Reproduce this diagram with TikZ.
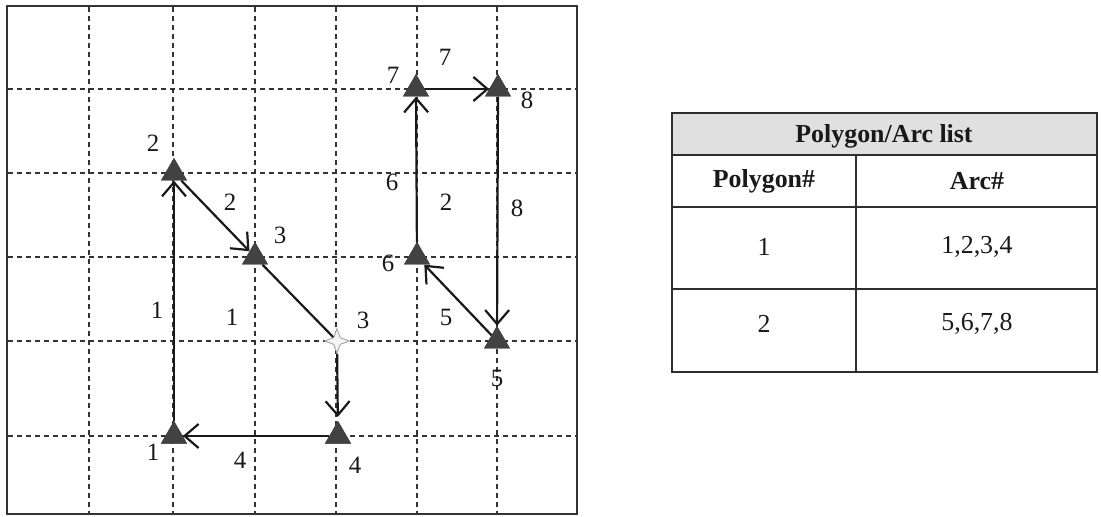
\documentclass[tikz,border=0pt]{standalone}
\usepackage{fontspec}
\setmainfont{Liberation Serif}
\usetikzlibrary{shapes.geometric,arrows.meta}
\begin{document}
\begin{tikzpicture}[x=1bp,y=-1bp,
  vtx/.style={regular polygon,regular polygon sides=3,minimum size=30bp,inner sep=0pt,fill=black!74},
  sparkle/.style={star,star points=4,star point ratio=2.6,minimum size=24bp,inner sep=0pt,fill=black!4,draw=black!35,line width=0.8bp},
  gridline/.style={dash pattern=on 5bp off 4bp,line width=1.5bp,draw=black!80},
  arcline/.style={line width=2.2bp,draw=black!90},
  arcarrow/.style={arcline,-{Straight Barb[length=14bp,width=24bp,line width=2.2bp]}},
  lbl/.style={font=\fontsize{25}{25}\selectfont,inner sep=0pt,text=black!90},
  tline/.style={line width=1.7bp,draw=black!82},
  tbold/.style={font=\fontsize{26}{26}\selectfont\bfseries,inner sep=0pt,text=black!90},
  tnorm/.style={font=\fontsize{26}{26}\selectfont,inner sep=0pt,text=black!90}
]
\useasboundingbox (0,0) rectangle (1101,517);
\fill[white] (0,0) rectangle (1101,517);

% ---- left panel frame and grid
\draw[line width=1.7bp,draw=black!80] (7,6) rectangle (577,514);
\foreach \gx in {89,173,255,336,417,497}
  \draw[gridline] (\gx,7) -- (\gx,513);
\foreach \gy in {89,173,257,341,436}
  \draw[gridline] (8,\gy) -- (576,\gy);

% ---- vertices
\node[vtx] (n1) at (174,436) {};
\node[vtx] (n2) at (174,173) {};
\node[vtx] (n3) at (255,257) {};
\node[vtx] (n4) at (338,436) {};
\node[vtx] (n5) at (497,341) {};
\node[vtx] (n6) at (417,257) {};
\node[vtx] (n7) at (416,89) {};
\node[vtx] (n8) at (498,89) {};
\node[sparkle] (s3) at (337,341) {};

% ---- arcs polygon 1
\draw[arcarrow] (n1) -- (n2);
\draw[arcarrow] (n2) -- (n3);
\draw[arcline] (n3) -- (s3);
\draw[arcarrow,shorten >=4bp] (s3) -- (n4);
\draw[arcarrow] (n4) -- (n1);
% ---- arcs polygon 2
\draw[arcarrow] (n5) -- (n6);
\draw[arcarrow] (n6) -- (n7);
\draw[arcarrow] (n7) -- (n8);
\draw[arcarrow] (n8) -- (n5);

% redraw vertices on top
\node[vtx] at (n1) {};
\node[vtx] at (n2) {};
\node[vtx] at (n3) {};
\node[vtx] at (n4) {};
\node[vtx] at (n5) {};
\node[vtx] at (n6) {};
\node[vtx] at (n7) {};
\node[vtx] at (n8) {};
\node[sparkle] at (s3) {};

% ---- labels
\node[lbl] (l2) at (153,143) {2};
\node[lbl] (la2) at (230,202) {2};
\node[lbl] (l3) at (280,235) {3};
\node[lbl] (la1) at (157,310) {1};
\node[lbl] (lp1) at (232,317) {1};
\node[lbl] (l3b) at (363,320) {3};
\node[lbl] (l1) at (153,452) {1};
\node[lbl] (la4) at (240,460) {4};
\node[lbl] (l4) at (355,465) {4};
\node[lbl] (l7) at (393,75) {7};
\node[lbl] (la7) at (445,57) {7};
\node[lbl] (l8) at (527,100) {8};
\node[lbl] (la6) at (392,182) {6};
\node[lbl] (lp2) at (446,202) {2};
\node[lbl] (la8) at (517,208) {8};
\node[lbl] (l6) at (388,263) {6};
\node[lbl] (la5) at (446,317) {5};
\node[lbl] (l5) at (497,378) {5};

% ---- table
\fill[black!12] (672,113) rectangle (1097,155);
\draw[tline] (672,113) rectangle (1097,372);
\draw[tline] (672,155) -- (1097,155);
\draw[tline] (672,207) -- (1097,207);
\draw[tline] (672,289) -- (1097,289);
\draw[tline] (856,155) -- (856,372);
\node[tbold] (th) at (884,136) {Polygon/Arc list};
\node[tbold] (tc1) at (764,181) {Polygon\#};
\node[tbold] (tc2) at (977,181) {Arc\#};
\node[tnorm] (r1a) at (764,247) {1};
\node[tnorm] (r1b) at (977,247) {1,2,3,4};
\node[tnorm] (r2a) at (764,324) {2};
\node[tnorm] (r2b) at (977,324) {5,6,7,8};
\end{tikzpicture}
\end{document}
